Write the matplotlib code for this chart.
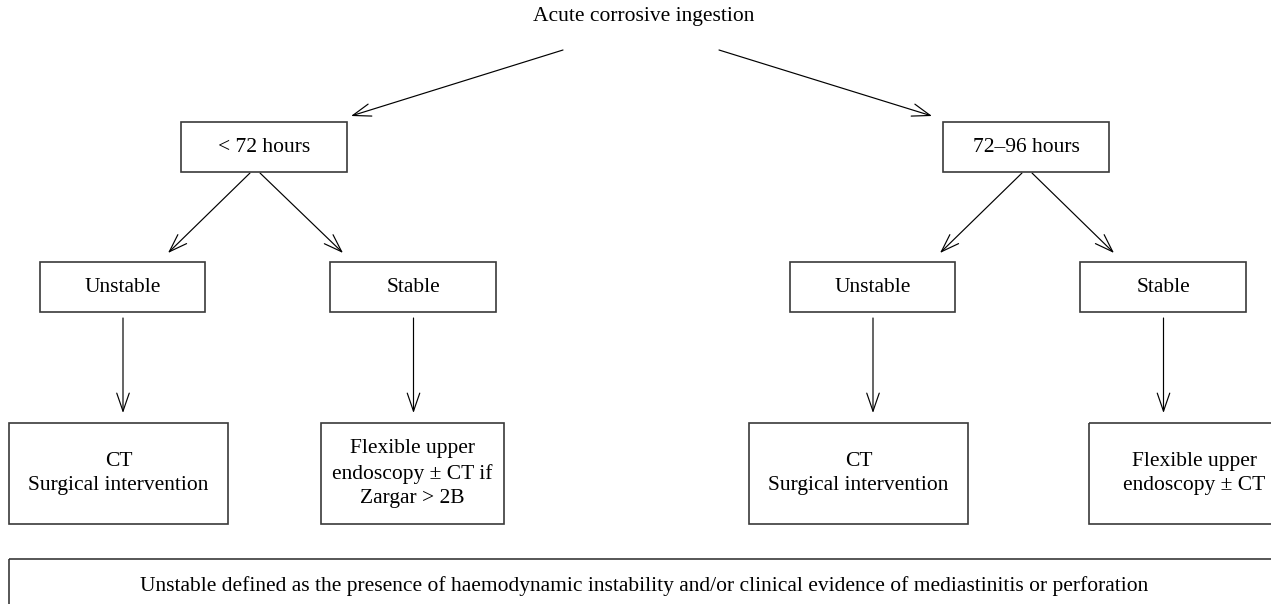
import matplotlib.pyplot as plt
from matplotlib.patches import Rectangle, FancyArrowPatch

# flowchart text
title = "Acute corrosive ingestion"
time_labels = ["< 72 hours", "72\u201396 hours"]
state_labels = ["Unstable", "Stable", "Unstable", "Stable"]
action_labels = ["CT\nSurgical intervention",
                 "Flexible upper\nendoscopy \u00b1 CT if\nZargar > 2B",
                 "CT\nSurgical intervention",
                 "Flexible upper\nendoscopy \u00b1 CT"]
footnote = ("Unstable defined as the presence of haemodynamic instability and/or "
            "clinical evidence of mediastinitis or perforation")

# layout in pixels (x0, y0, x1, y1), y from the top
time_boxes = [(181, 122, 347, 172), (943, 122, 1109, 172)]
state_boxes = [(40, 262, 205, 312), (330, 262, 496, 312),
               (790, 262, 955, 312), (1080, 262, 1246, 312)]
action_boxes = [(9, 423, 228, 524), (321, 423, 504, 524),
                (749, 423, 968, 524), (1089, 423, 1300, 524)]
foot_box = (9, 559, 1300, 640)

# arrows (start, end) in pixels
top_arrows = [((563, 50), (351, 116)), ((719, 50), (932, 116))]
split_arrows = [((250, 173), (168, 253)), ((260, 173), (343, 253)),
                ((1022, 173), (940, 253)), ((1032, 173), (1114, 253))]

plt.rcParams['font.family'] = ['Liberation Serif', 'DejaVu Serif']
fig = plt.figure(figsize=(12.71, 6.04), dpi=100)
ax = fig.add_axes([0, 0, 1, 1])
ax.set_xlim(0, 1271)
ax.set_ylim(604, 0)
ax.axis('off')

FS = 15.5

def box(b, text):
    x0, y0, x1, y1 = b
    ax.add_patch(Rectangle((x0, y0), x1 - x0, y1 - y0, fill=False,
                           edgecolor='#3a3a3a', linewidth=1.2))
    ax.text((x0 + x1) / 2, (y0 + y1) / 2, text, ha='center', va='center',
            fontsize=FS, linespacing=1.38)

def arrow(p, q):
    ax.add_patch(FancyArrowPatch(p, q, arrowstyle='->,head_length=13,head_width=4.5',
                                 mutation_scale=1, color='black', linewidth=0.85,
                                 shrinkA=0, shrinkB=0))

ax.text(644, 16, title, ha='center', va='center', fontsize=FS)

for p, q in top_arrows + split_arrows:
    arrow(p, q)

for b, t in zip(time_boxes, time_labels):
    box(b, t)
for b, t in zip(state_boxes, state_labels):
    box(b, t)
for b, t in zip(action_boxes, action_labels):
    box(b, t)

# state box -> action boxes
for sb in state_boxes:
    sx = (sb[0] + sb[2]) / 2 + 0.5
    arrow((sx, 318), (sx, 413))

x0, y0, x1, y1 = foot_box
ax.add_patch(Rectangle((x0, y0), x1 - x0, y1 - y0, fill=False,
                       edgecolor='#3a3a3a', linewidth=1.2))
ax.text(644, 586, footnote, ha='center', va='center', fontsize=FS)

fig.savefig('out.png', dpi=100)
